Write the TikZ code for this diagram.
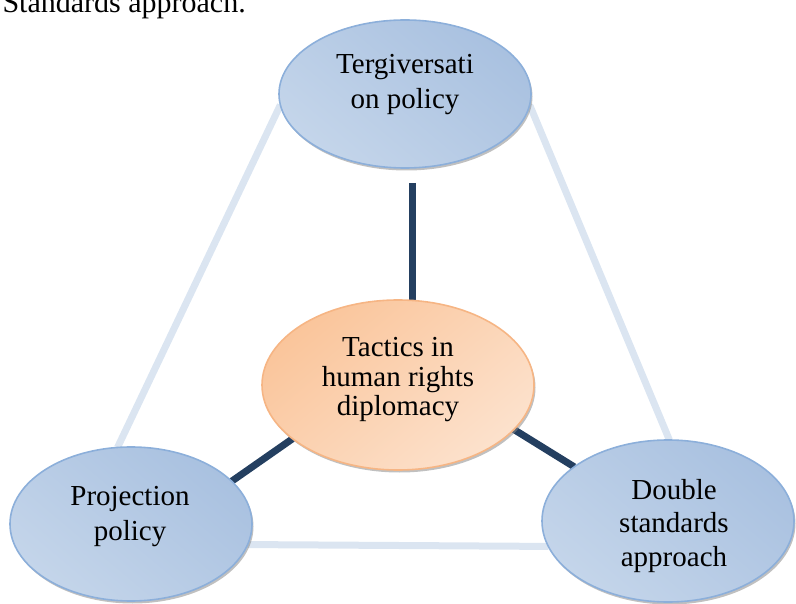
\documentclass[tikz,border=0pt]{standalone}
\usepackage{fontspec}
\setmainfont{Liberation Serif}
\usetikzlibrary{shapes.geometric,shadows,backgrounds}
\definecolor{blueBorder}{HTML}{8CAFDA}
\definecolor{blueDark}{HTML}{A9C1E0}
\definecolor{blueLight}{HTML}{E0E9F4}
\definecolor{blueMid}{HTML}{C4D5EA}
\definecolor{orBorder}{HTML}{F6B584}
\definecolor{orDark}{HTML}{FAC59B}
\definecolor{orLight}{HTML}{FDEBDD}
\definecolor{navy}{HTML}{243F60}
\definecolor{paleline}{HTML}{DBE5F1}
\begin{document}
\begin{tikzpicture}[x=1pt,y=-1pt,
  ell/.style={ellipse, inner sep=0pt, outer sep=0pt, line width=1.6pt,
    drop shadow={shadow xshift=1.5pt, shadow yshift=-2.5pt, fill=black!45, opacity=0.55}},
  blueell/.style={ell, draw=blueBorder, top color=blueDark, middle color=blueLight, bottom color=blueMid, shading angle=-40},
  orell/.style={ell, draw=orBorder, top color=orDark, middle color=orLight, bottom color=orLight!75!orDark, shading angle=40},
  txt/.style={align=center, inner sep=0pt},
  darkline/.style={draw=navy, line width=7pt},
  paleconn/.style={draw=paleline, line width=7pt}]
\useasboundingbox (0,0) rectangle (796,604);
\node[anchor=base east, inner sep=0pt, font=\fontsize{30}{36}\selectfont] (hdr) at (246,13) {Standards approach.};
\node[blueell, minimum width=252pt, minimum height=148pt] (topE) at (405,94) {};
\node[orell, minimum width=272pt, minimum height=170pt] (cenE) at (398,385) {};
\node[blueell, minimum width=242pt, minimum height=154pt] (blE) at (131,524) {};
\node[blueell, minimum width=252pt, minimum height=162pt] (brE) at (668,521) {};
\node[txt, font=\fontsize{29}{35}\selectfont] (topT) at (405,85) {Tergiversati\\on policy};
\node[txt, font=\fontsize{29}{29.5}\selectfont] (cenT) at (398,380) {Tactics in\\human rights\\diplomacy};
\node[txt, font=\fontsize{29}{35}\selectfont] (blT) at (130,517) {Projection\\policy};
\node[txt, font=\fontsize{29}{33.5}\selectfont] (brT) at (674,526) {Double\\standards\\approach};
\begin{scope}[on background layer]
\draw[paleconn] (topE.185) -- (blE.100);
\draw[paleconn] (topE.355) -- (brE.89);
\draw[paleconn] (blE.-10) -- (brE.192);
\draw[darkline] ([xshift=7pt,yshift=-15pt]topE.south) -- ([xshift=7pt,yshift=-15pt]topE.south |- cenE.north);
\draw[darkline] (cenE.207) -- (blE.23);
\draw[darkline] (cenE.-21) -- (brE.150);
\end{scope}
\end{tikzpicture}
\end{document}
